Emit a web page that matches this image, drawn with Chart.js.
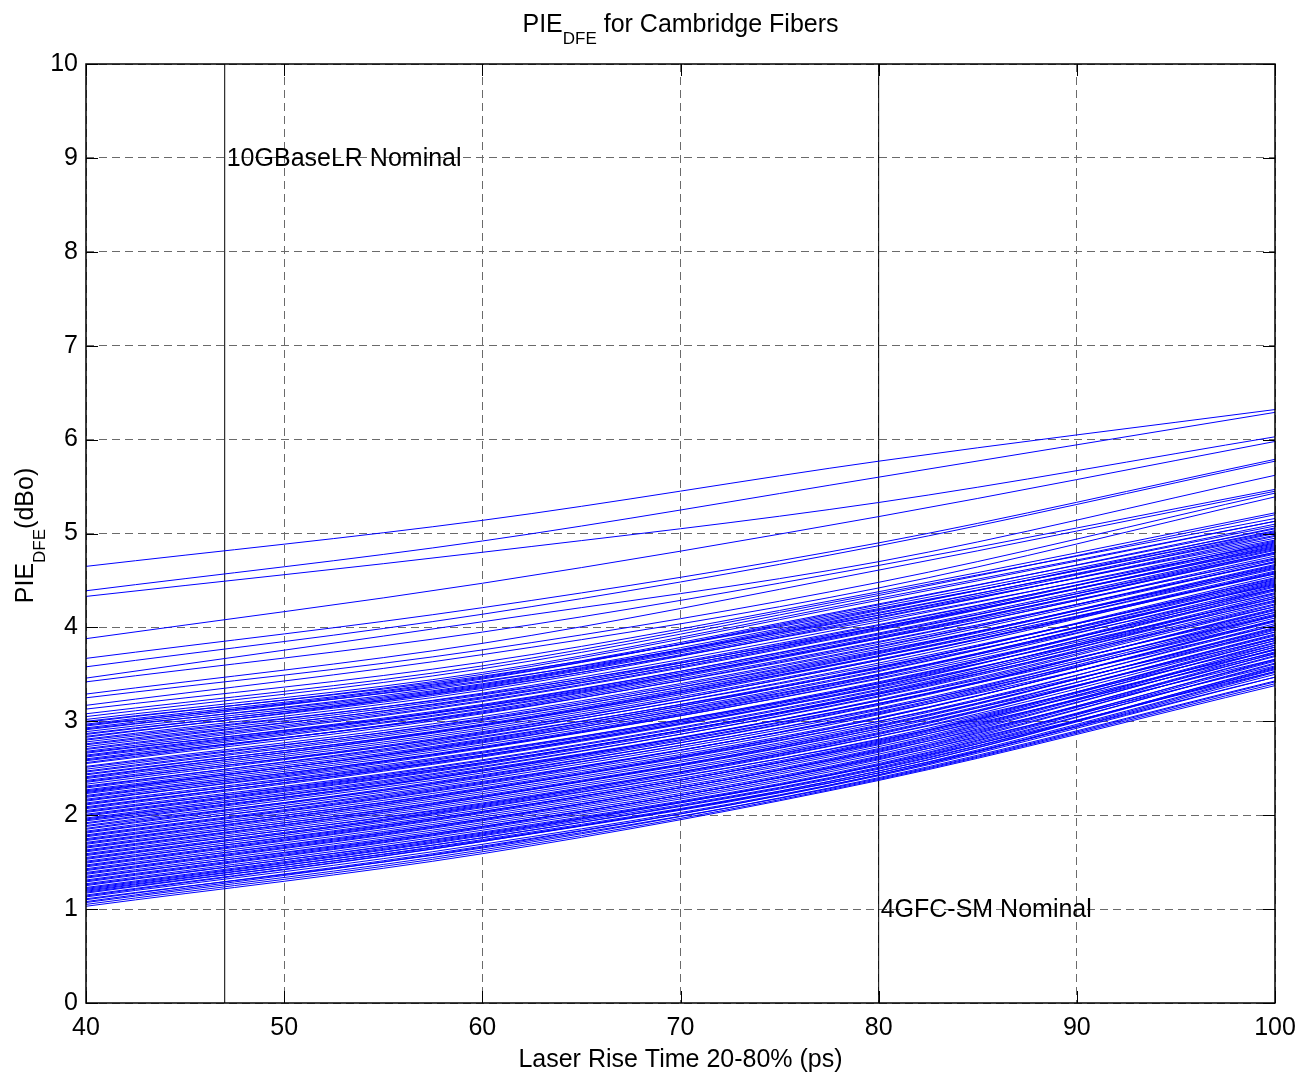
<!DOCTYPE html>
<html>
<head>
<meta charset="utf-8">
<script src="https://cdn.jsdelivr.net/npm/chart.js@4.4.1/dist/chart.umd.min.js"></script>
<style>
html,body{margin:0;padding:0;background:#fff;}
canvas{display:block;}
</style>
</head>
<body>
<canvas id="c" width="1303" height="1078"></canvas>
<script>
// ---- data ----
const riseTimes = [40, 60, 80, 100];

const upperLines = [
  [4.65, 5.14, 5.77, 6.32],
  [4.39, 4.92, 5.60, 6.29],
  [4.33, 4.80, 5.33, 6.03],
  [3.88, 4.47, 5.18, 5.98],
  [3.67, 4.21, 4.90, 5.79],
  [3.58, 4.14, 4.87, 5.77],
  [3.46, 4.06, 4.70, 5.62],
  [3.42, 3.95, 4.66, 5.47],
  [3.29, 3.83, 4.61, 5.45],
  [3.25, 3.76, 4.48, 5.43],
  [3.17, 3.71, 4.42, 5.39],
  [3.13, 3.63, 4.38, 5.22],
  [3.08, 3.59, 4.36, 5.16]
];

const denseLines = [
  [3.05, 3.56, 4.34, 5.20], [3.02, 3.52, 4.31, 5.13], [2.99, 3.50, 4.29, 5.13], [2.97, 3.47, 4.25, 5.08],
  [2.95, 3.46, 4.22, 5.05], [2.93, 3.45, 4.24, 5.10], [2.91, 3.42, 4.19, 5.03], [2.89, 3.39, 4.16, 4.98],
  [2.86, 3.38, 4.15, 5.01], [2.84, 3.35, 4.11, 4.95], [2.81, 3.33, 4.10, 4.97], [2.78, 3.30, 4.06, 4.92],
  [2.76, 3.28, 4.03, 4.88], [2.73, 3.26, 4.02, 4.90], [2.70, 3.22, 3.98, 4.85], [2.68, 3.21, 3.97, 4.87],
  [2.66, 3.18, 3.93, 4.80], [2.64, 3.17, 3.94, 4.83], [2.62, 3.14, 3.90, 4.78], [2.60, 3.13, 3.89, 4.80],
  [2.58, 3.10, 3.85, 4.74], [2.55, 3.08, 3.84, 4.76], [2.52, 3.05, 3.80, 4.70], [2.49, 3.03, 3.79, 4.72],
  [2.46, 2.99, 3.74, 4.65], [2.43, 2.97, 3.73, 4.67], [2.41, 2.95, 3.70, 4.62], [2.39, 2.93, 3.69, 4.64],
  [2.37, 2.91, 3.66, 4.58], [2.35, 2.89, 3.65, 4.60],
  [2.29, 2.83, 3.58, 4.52], [2.27, 2.81, 3.57, 4.55], [2.25, 2.79, 3.54, 4.49], [2.23, 2.77, 3.53, 4.51],
  [2.21, 2.75, 3.50, 4.46], [2.19, 2.73, 3.49, 4.48],
  [2.13, 2.67, 3.42, 4.40], [2.11, 2.66, 3.41, 4.43], [2.09, 2.63, 3.38, 4.37], [2.07, 2.62, 3.37, 4.39],
  [2.05, 2.59, 3.34, 4.33], [2.03, 2.58, 3.33, 4.35], [2.01, 2.56, 3.30, 4.29], [1.99, 2.54, 3.29, 4.31],
  [1.97, 2.52, 3.26, 4.25],
  [1.92, 2.48, 3.22, 4.22], [1.89, 2.45, 3.19, 4.18], [1.86, 2.43, 3.17, 4.20], [1.83, 2.40, 3.14, 4.14],
  [1.81, 2.38, 3.12, 4.16], [1.79, 2.35, 3.09, 4.10], [1.77, 2.33, 3.07, 4.12], [1.75, 2.31, 3.04, 4.06],
  [1.73, 2.29, 3.03, 4.08], [1.71, 2.27, 3.00, 4.02], [1.69, 2.25, 2.98, 4.04], [1.67, 2.23, 2.96, 3.98],
  [1.65, 2.21, 2.94, 4.00], [1.63, 2.19, 2.92, 3.95], [1.61, 2.17, 2.90, 3.97], [1.59, 2.15, 2.88, 3.92],
  [1.57, 2.13, 2.86, 3.93],
  [1.51, 2.08, 2.81, 3.86], [1.49, 2.06, 2.79, 3.88], [1.47, 2.04, 2.77, 3.83], [1.45, 2.02, 2.75, 3.84],
  [1.43, 2.00, 2.73, 3.79], [1.41, 1.98, 2.71, 3.81], [1.39, 1.96, 2.69, 3.76], [1.37, 1.94, 2.67, 3.77],
  [1.35, 1.92, 2.65, 3.72], [1.33, 1.90, 2.63, 3.74], [1.31, 1.88, 2.61, 3.69], [1.29, 1.86, 2.59, 3.70],
  [1.27, 1.84, 2.57, 3.65], [1.25, 1.82, 2.55, 3.66], [1.23, 1.80, 2.53, 3.61], [1.21, 1.78, 2.51, 3.62],
  [1.19, 1.76, 2.49, 3.57], [1.17, 1.74, 2.47, 3.58], [1.15, 1.72, 2.45, 3.53], [1.13, 1.69, 2.43, 3.50],
  [1.10, 1.67, 2.42, 3.47], [1.07, 1.63, 2.40, 3.43], [1.03, 1.59, 2.37, 3.38]
];

const crossingLines = [
  [3.00, 3.48, 4.20, 5.02], [2.96, 3.43, 4.13, 4.93], [2.92, 3.40, 4.18, 5.06], [2.87, 3.36, 4.08, 4.89],
  [2.83, 3.37, 4.13, 5.00], [2.80, 3.29, 4.00, 4.84], [2.75, 3.25, 3.99, 4.86], [2.71, 3.24, 4.00, 4.91],
  [2.67, 3.16, 3.88, 4.73], [2.63, 3.16, 3.92, 4.82], [2.59, 3.09, 3.82, 4.69], [2.56, 3.11, 3.88, 4.79],
  [2.51, 3.02, 3.75, 4.63], [2.47, 3.01, 3.77, 4.70], [2.44, 2.96, 3.69, 4.57], [2.40, 2.96, 3.72, 4.66],
  [2.36, 2.87, 3.60, 4.50], [2.33, 2.88, 3.65, 4.57], [2.31, 2.84, 3.56, 4.45], [2.30, 2.86, 3.62, 4.59],
  [2.26, 2.78, 3.50, 4.41], [2.24, 2.80, 3.57, 4.53], [2.20, 2.72, 3.45, 4.36], [2.17, 2.72, 3.48, 4.47],
  [2.16, 2.68, 3.40, 4.31], [2.15, 2.71, 3.46, 4.44], [2.12, 2.64, 3.36, 4.28], [2.08, 2.64, 3.40, 4.41],
  [2.04, 2.56, 3.29, 4.22], [2.00, 2.55, 3.31, 4.33], [1.96, 2.49, 3.22, 4.16], [1.95, 2.51, 3.27, 4.27],
  [1.94, 2.47, 3.19, 4.12], [1.91, 2.47, 3.23, 4.24], [1.88, 2.41, 3.13, 4.07], [1.85, 2.42, 3.18, 4.19],
  [1.82, 2.36, 3.08, 4.02], [1.78, 2.34, 3.10, 4.13], [1.74, 2.28, 3.00, 3.95], [1.70, 2.27, 3.03, 4.07],
  [1.66, 2.20, 2.92, 3.88], [1.62, 2.19, 2.95, 3.99], [1.58, 2.12, 2.84, 3.81], [1.55, 2.11, 2.87, 3.91],
  [1.54, 2.09, 2.80, 3.76], [1.53, 2.10, 2.84, 3.89], [1.50, 2.04, 2.76, 3.73], [1.46, 2.03, 2.78, 3.86],
  [1.42, 1.96, 2.68, 3.66], [1.38, 1.95, 2.70, 3.79], [1.34, 1.88, 2.60, 3.59], [1.30, 1.87, 2.62, 3.72],
  [1.26, 1.81, 2.53, 3.53], [1.22, 1.79, 2.54, 3.64], [1.18, 1.73, 2.45, 3.47], [1.14, 1.72, 2.47, 3.56],
  [1.11, 1.65, 2.39, 3.42], [1.08, 1.66, 2.43, 3.52], [1.05, 1.61, 2.38, 3.40], [1.20, 1.76, 2.50, 3.55]
];

const refX = [47, 80];
const refLabels = ['10GBaseLR Nominal', '4GFC-SM Nominal'];
const refLabelY = [9, 1];
const yRange = [0, 10];
const xRange = [40, 100];

// ---- chart ----
const FONT = '"Liberation Sans", Arial, Helvetica, sans-serif';
const datasets = [];
upperLines.concat(denseLines, crossingLines).forEach(vals => {
  datasets.push({
    data: vals.map((v, i) => ({x: riseTimes[i], y: v})),
    borderColor: '#0000ff', borderWidth: 1, pointRadius: 0, showLine: true, fill: false,
    cubicInterpolationMode: 'monotone'
  });
});
refX.forEach(xv => {
  datasets.push({
    data: yRange.map(yv => ({x: xv, y: yv})),
    borderColor: '#000000', borderWidth: 1, pointRadius: 0, showLine: true, fill: false
  });
});

const decor = {
  id: 'decor',
  afterDatasetsDraw(chart) {
    const ctx = chart.ctx, a = chart.chartArea, xs = chart.scales.x, ys = chart.scales.y;
    ctx.save();
    ctx.fillStyle = '#000';
    ctx.font = '25px ' + FONT;
    ctx.textAlign = 'left';
    ctx.textBaseline = 'middle';
    refX.forEach((xv, i) => {
      ctx.fillText(refLabels[i], xs.getPixelForValue(xv) + 2, ys.getPixelForValue(refLabelY[i]) + 1);
    });
    ctx.strokeStyle = '#000';
    ctx.lineWidth = 1.5;
    ctx.setLineDash([]);
    ctx.strokeRect(a.left, a.top, a.right - a.left, a.bottom - a.top);
    ctx.lineWidth = 1;
    const tl = 12;
    xs.ticks.forEach(t => {
      const px = Math.round(xs.getPixelForValue(t.value)) + 0.5;
      ctx.beginPath();
      ctx.moveTo(px, a.bottom); ctx.lineTo(px, a.bottom - tl);
      ctx.moveTo(px, a.top); ctx.lineTo(px, a.top + tl);
      ctx.stroke();
    });
    ys.ticks.forEach(t => {
      const py = Math.round(ys.getPixelForValue(t.value)) + 0.5;
      ctx.beginPath();
      ctx.moveTo(a.left, py); ctx.lineTo(a.left + tl, py);
      ctx.moveTo(a.right, py); ctx.lineTo(a.right - tl, py);
      ctx.stroke();
    });
    ctx.restore();
  },
  afterDraw(chart) {
    const ctx = chart.ctx, a = chart.chartArea;
    ctx.save();
    ctx.fillStyle = '#000';
    ctx.textBaseline = 'alphabetic';
    const big = '25px ' + FONT, small = '17px ' + FONT;
    const p1 = 'PIE', sub = 'DFE', p2 = ' for Cambridge Fibers';
    ctx.font = big; const w1 = ctx.measureText(p1).width, w3 = ctx.measureText(p2).width;
    ctx.font = small; const w2 = ctx.measureText(sub).width;
    const cx = (a.left + a.right) / 2;
    const x0 = cx - (w1 + w2 + w3) / 2;
    const base = 32;
    ctx.textAlign = 'left';
    ctx.font = big; ctx.fillText(p1, x0, base);
    ctx.font = small; ctx.fillText(sub, x0 + w1, base + 12);
    ctx.font = big; ctx.fillText(p2, x0 + w1 + w2, base);
    // y title
    const q1 = 'PIE', qs = 'DFE', q2 = '(dBo)';
    ctx.font = big; const v1 = ctx.measureText(q1).width, v3 = ctx.measureText(q2).width;
    ctx.font = small; const v2 = ctx.measureText(qs).width;
    ctx.translate(33, (a.top + a.bottom) / 2 + 2);
    ctx.rotate(-Math.PI / 2);
    const y0 = -(v1 + v2 + v3) / 2;
    ctx.font = big; ctx.fillText(q1, y0, 0);
    ctx.font = small; ctx.fillText(qs, y0 + v1, 12);
    ctx.font = big; ctx.fillText(q2, y0 + v1 + v2, 0);
    ctx.setTransform(1, 0, 0, 1, 0, 0);
    // x title
    ctx.font = big;
    ctx.textAlign = 'center';
    ctx.fillText('Laser Rise Time 20-80% (ps)', cx, 1067);
    ctx.restore();
  }
};

new Chart(document.getElementById('c'), {
  type: 'scatter',
  data: {datasets},
  options: {
    responsive: false,
    animation: false,
    devicePixelRatio: 1,
    layout: {padding: {top: 64, right: 28, left: 0, bottom: 0}},
    plugins: {legend: {display: false}, tooltip: {enabled: false}, title: {display: false}},
    scales: {
      x: {
        type: 'linear', min: xRange[0], max: xRange[1],
        afterFit(s) { s.height = 75; s.paddingRight = 0; s.paddingLeft = 0; },
        ticks: {stepSize: 10, color: '#000', font: {family: FONT, size: 25}, padding: 10, maxRotation: 0},
        grid: {color: '#6a6a6a', lineWidth: 1, drawTicks: false},
        border: {display: false, dash: [8, 5]}
      },
      y: {
        type: 'linear', min: yRange[0], max: yRange[1],
        afterFit(s) { s.width = 86; s.paddingTop = 0; s.paddingBottom = 0; },
        ticks: {stepSize: 1, color: '#000', font: {family: FONT, size: 25}, padding: 8},
        grid: {color: '#6a6a6a', lineWidth: 1, drawTicks: false},
        border: {display: false, dash: [8, 5]}
      }
    }
  },
  plugins: [decor]
});
</script>
</body>
</html>
